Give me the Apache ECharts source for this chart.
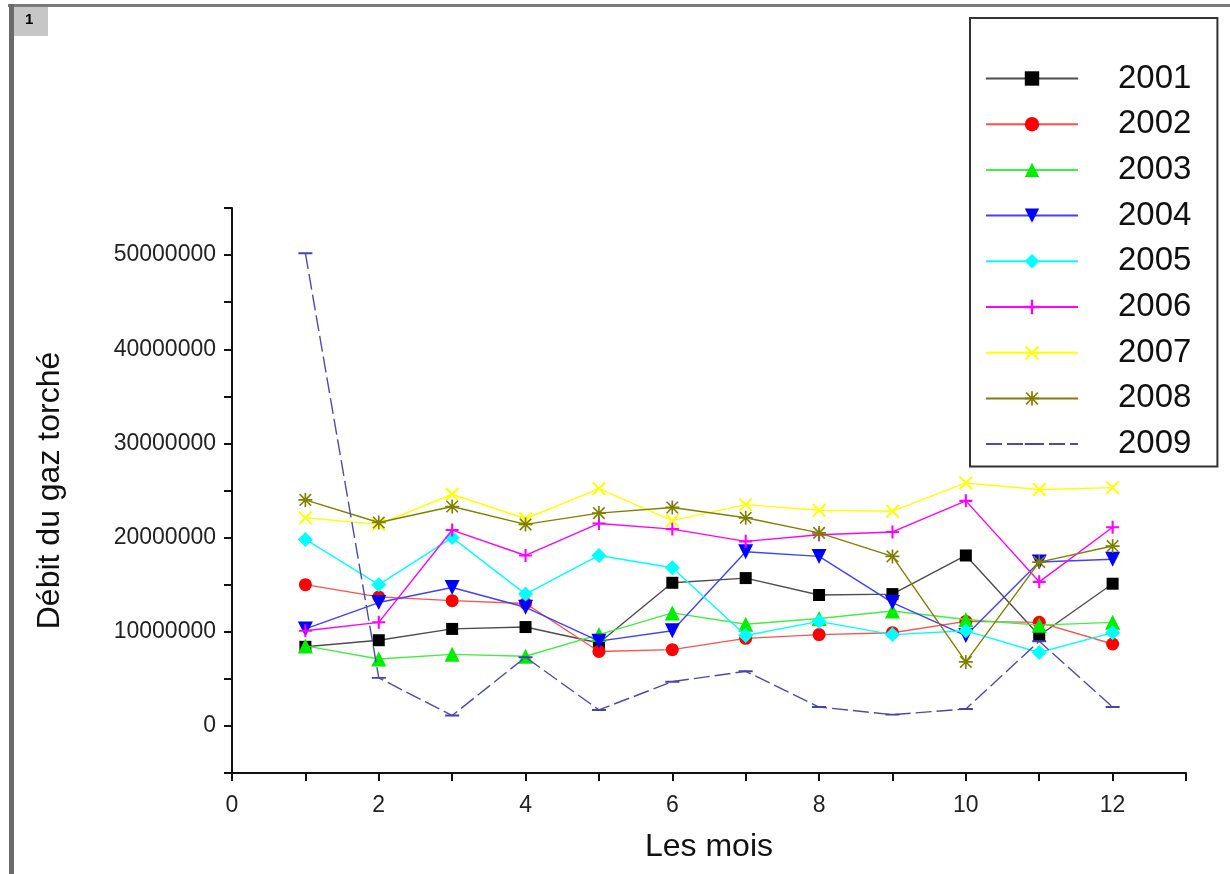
<!DOCTYPE html>
<html>
<head>
<meta charset="utf-8">
<script src="https://cdn.jsdelivr.net/npm/echarts@6/dist/echarts.min.js"></script>
<style>
html,body{margin:0;padding:0;background:#fff;}
#chart{width:1230px;height:874px;}
</style>
</head>
<body>
<div id="chart"></div>
<script>
const months = [1, 2, 3, 4, 5, 6, 7, 8, 9, 10, 11, 12];
const years = ['2001', '2002', '2003', '2004', '2005', '2006', '2007', '2008', '2009'];
const d2001 = [8400000, 9100000, 10300000, 10500000, 8800000, 15200000, 15700000, 13900000, 14000000, 18100000, 9600000, 15100000];
const d2002 = [15000000, 13700000, 13300000, 13000000, 7900000, 8100000, 9300000, 9700000, 9900000, 11100000, 11000000, 8700000];
const d2003 = [8500000, 7100000, 7600000, 7400000, 9700000, 12000000, 10800000, 11400000, 12200000, 11300000, 10700000, 11000000];
const d2004 = [10300000, 13100000, 14700000, 12600000, 9000000, 10100000, 18500000, 18000000, 13100000, 9600000, 17400000, 17700000];
const d2005 = [19800000, 15000000, 20000000, 14000000, 18100000, 16800000, 9600000, 11100000, 9700000, 10100000, 7800000, 9900000];
const d2006 = [10100000, 11000000, 20800000, 18100000, 21500000, 20900000, 19600000, 20300000, 20600000, 23900000, 15300000, 21100000];
const d2007 = [22100000, 21400000, 24600000, 22000000, 25200000, 21800000, 23500000, 22900000, 22800000, 25800000, 25100000, 25300000];
const d2008 = [24000000, 21600000, 23300000, 21400000, 22600000, 23200000, 22100000, 20500000, 18000000, 6800000, 17400000, 19100000];
const d2009 = [50200000, 5100000, 1100000, 7300000, 1700000, 4700000, 5800000, 2000000, 1200000, 1800000, 9000000, 2000000];
const xTicks = [0, 2, 4, 6, 8, 10, 12];
const yTicks = [0, 10000000, 20000000, 30000000, 40000000, 50000000];

const values = [d2001, d2002, d2003, d2004, d2005, d2006, d2007, d2008, d2009];

const PLUS = 'path://M4.2,0H5.8V4.2H10V5.8H5.8V10H4.2V5.8H0V4.2H4.2Z';
const CROSS = 'path://M0,1L1,0L5,4L9,0L10,1L6,5L10,9L9,10L5,6L1,10L0,9L4,5Z';
const STAR = 'path://M4.4,0H5.6V4.4H10V5.6H5.6V10H4.4V5.6H0V4.4H4.4Z M0.5,1.3L1.3,0.5L5,4.2L8.7,0.5L9.5,1.3L5.8,5L9.5,8.7L8.7,9.5L5,5.8L1.3,9.5L0.5,8.7L4.2,5Z';
const DOWN = 'path://M0,0L10,0L5,9Z';
const DASH = 'path://M0,0H0.01V0.01H0Z M0,4.3H10V5.7H0Z M9.99,9.99H10V10H9.99Z';

const styles = [
  {mc: '#000000', lc: '#4d4d4d', sym: 'rect', size: 12},
  {mc: '#ff0000', lc: '#ff5050', sym: 'circle', size: 13},
  {mc: '#00ee00', lc: '#40f040', sym: 'triangle', size: 15},
  {mc: '#0000ff', lc: '#4040ff', sym: DOWN, size: 15},
  {mc: '#00ffff', lc: '#00ffff', sym: 'diamond', size: 15},
  {mc: '#ff00ff', lc: '#ff00ff', sym: PLUS, size: 13},
  {mc: '#ffff00', lc: '#ffff00', sym: CROSS, size: 14},
  {mc: '#808000', lc: '#808000', sym: STAR, size: 14},
  {mc: '#4444aa', lc: '#4a4ab0', sym: DASH, size: 14, dashed: true}
];

const series = years.map((y, i) => {
  const s = styles[i];
  return {
    name: y,
    type: 'line',
    data: months.map((m, j) => [m, values[i][j]]),
    symbol: s.sym,
    symbolSize: s.size,
    showAllSymbol: true,
    itemStyle: {color: s.mc},
    lineStyle: {color: s.lc, width: 1.4, type: s.dashed ? [16, 5] : 'solid'},
    emphasis: {disabled: true},
    animation: false,
    z: 2 + i
  };
});

const chart = echarts.init(document.getElementById('chart'), null, {renderer: 'canvas'});
chart.setOption({
  backgroundColor: '#ffffff',
  animation: false,
  graphic: [
    {type: 'rect', shape: {x: 8, y: 4, width: 1222, height: 3}, style: {fill: '#7a7a7a'}, silent: true},
    {type: 'rect', shape: {x: 9, y: 4, width: 5, height: 870}, style: {fill: '#6a6a6a'}, silent: true},
    {type: 'rect', shape: {x: 14, y: 7, width: 34, height: 29}, style: {fill: '#c6c6c6'}, silent: true},
    {type: 'text', left: 25, top: 12, style: {text: '1', font: 'bold 15px Liberation Sans, Arial', fill: '#000'}, silent: true}
  ],
  grid: {left: 232, right: 44, top: 208, bottom: 101, containLabel: false},
  legend: {
    orient: 'vertical',
    left: 970,
    top: 18,
    padding: [44, 26, 6, 15],
    itemWidth: 92,
    itemHeight: 18,
    itemGap: 12.7,
    borderColor: '#333',
    borderWidth: 2,
    backgroundColor: '#fff',
    data: years,
    textStyle: {fontSize: 33, fontFamily: 'Liberation Sans, Arial', color: '#111', padding: [0, 0, 0, 35], lineHeight: 32}
  },
  xAxis: {
    type: 'value',
    min: 0,
    max: 13,
    interval: 1,
    name: 'Les mois',
    nameLocation: 'middle',
    nameGap: 58,
    nameTextStyle: {fontSize: 32, fontFamily: 'Liberation Sans, Arial', color: '#111'},
    axisLine: {show: true, onZero: false, lineStyle: {color: '#111', width: 2}},
    axisTick: {show: true, inside: false, length: 8, lineStyle: {color: '#111', width: 2}},
    axisLabel: {
      fontSize: 23, fontFamily: 'Liberation Sans, Arial', color: '#222', margin: 21,
      formatter: v => (xTicks.indexOf(v) >= 0 ? String(v) : '')
    },
    splitLine: {show: false}
  },
  yAxis: {
    type: 'value',
    min: -5000000,
    max: 55000000,
    interval: 5000000,
    name: 'Débit du gaz torché',
    nameLocation: 'middle',
    nameGap: 166,
    nameRotate: 90,
    nameTextStyle: {fontSize: 32, fontFamily: 'Liberation Sans, Arial', color: '#111'},
    axisLine: {show: true, onZero: false, lineStyle: {color: '#111', width: 2}},
    axisTick: {show: true, inside: false, length: 8, lineStyle: {color: '#111', width: 2}},
    axisLabel: {
      fontSize: 23, fontFamily: 'Liberation Sans, Arial', color: '#222', margin: 16,
      formatter: v => (yTicks.indexOf(v) >= 0 ? String(v) : '')
    },
    splitLine: {show: false}
  },
  series: series
});
</script>
</body>
</html>
